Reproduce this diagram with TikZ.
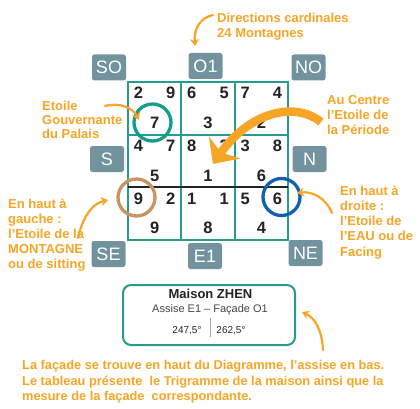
\documentclass[tikz,border=0pt]{standalone}
\usepackage{fontspec}
\setmainfont{Liberation Sans}
\usetikzlibrary{arrows.meta}
\definecolor{teal1}{RGB}{38,156,142}
\definecolor{tealc}{RGB}{20,158,138}
\definecolor{orng}{RGB}{246,165,38}
\definecolor{dirgray}{RGB}{114,146,157}
\definecolor{brownc}{RGB}{200,148,98}
\definecolor{bluec}{RGB}{18,96,176}
\definecolor{darktxt}{RGB}{35,35,35}
\definecolor{midtxt}{RGB}{70,70,70}
\begin{document}
\begin{tikzpicture}[x=1pt,y=-1pt,
  digit/.style={anchor=base,inner sep=0pt,font=\fontsize{16.5}{16.5}\selectfont\bfseries,text=darktxt},
  dirbox/.style={fill=dirgray,rounded corners=2.5pt,minimum width=34pt,minimum height=26pt,inner sep=0pt,text=white,font=\fontsize{18}{18}\selectfont},
  olab/.style={anchor=base west,inner sep=0pt,text=orng,font=\fontsize{13}{13}\selectfont\bfseries},
  blab/.style={olab,font=\fontsize{12.8}{12.8}\selectfont\bfseries},
  thinarrow/.style={draw=orng,line width=2.2pt,line cap=round,-{Stealth[length=7pt,width=9pt]}},
  ring/.style={circle,draw,line width=3.3pt,minimum size=37pt,inner sep=0pt},
  gridline/.style={draw=teal1,line width=1.8pt}
]
\useasboundingbox (0,0) rectangle (420,409);
\fill[white] (0,0) rectangle (420,409);

% grid
\draw[gridline] (128,82) rectangle (288,240);
\draw[gridline] (181.33,82) -- (181.33,240) (234.67,82) -- (234.67,240) (128,134.67) -- (288,134.67);
\draw[draw=darktxt,line width=1.8pt] (128,187.33) -- (288,187.33);

% digits
\foreach \r/\c/\a/\b/\m in {0/0/2/9/7,0/1/6/5/3,0/2/7/4/2,
                            1/0/4/7/5,1/1/8/3/1,1/2/3/8/6,
                            2/0/9/2/9,2/1/1/1/8,2/2/5/6/4}{
  \pgfmathsetmacro{\xl}{128+\c*53.333}
  \pgfmathsetmacro{\yt}{82+\r*52.667}
  \node[digit] (l\r\c) at (\xl+10.5,\yt+17) {\a};
  \node[digit] (r\r\c) at (\xl+42.8,\yt+17) {\b};
  \node[digit] (m\r\c) at (\xl+26.67,\yt+46.5) {\m};
}

% rings
\node[ring,draw=tealc] (ringpalais) at (152.5,122.5) {};
\node[ring,draw=brownc] (ringmont) at (136.5,197.5) {};
\node[ring,draw=bluec] (ringeau) at (281.5,197) {};

% direction boxes
\node[dirbox] (so) at (109,67.5) {SO};
\node[dirbox] (o1) at (205.5,66) {O1};
\node[dirbox] (no) at (308.5,67.5) {NO};
\node[dirbox] (s) at (107,159) {S};
\node[dirbox] (n) at (309.5,159) {N};
\node[dirbox] (se) at (108.5,254) {SE};
\node[dirbox] (e1) at (205,256) {E1};
\node[dirbox] (ne) at (305.5,253) {NE};

% big arrow
\coordinate (bigstart) at (321,122);
\coordinate (bigtip) at (213,164);
\draw[orng,line width=8.5pt,-{Stealth[length=20pt,width=38pt,inset=6pt]}] (bigstart) .. controls (293,100) and (248,114) .. (bigtip);

% orange labels
\node[olab] (dir1) at (217,23) {Directions cardinales};
\node[olab] (dir2) at (217,38) {24 Montagnes};
\node[olab] (pal1) at (42,110.5) {Etoile};
\node[olab] (pal2) at (42,124.5) {Gouvernante};
\node[olab] (pal3) at (42,138.5) {du Palais};
\node[olab] (cen1) at (327,105) {Au Centre};
\node[olab] (cen2) at (327,120) {l’Etoile de};
\node[olab] (cen3) at (327,135) {la Période};
\node[olab] (mon1) at (8,208) {En haut à};
\node[olab] (mon2) at (8,223) {gauche :};
\node[olab] (mon3) at (8,238) {l’Etoile de la};
\node[olab] (mon4) at (8,253) {MONTAGNE};
\node[olab] (mon5) at (8,268) {ou de sitting};
\node[olab] (eau1) at (340,195) {En haut à};
\node[olab] (eau2) at (340,210) {droite :};
\node[olab] (eau3) at (340,225) {l’Etoile de};
\node[olab] (eau4) at (340,240.5) {l’EAU ou de};
\node[olab] (eau5) at (340,256) {Facing};
\node[blab] (bot1) at (22,369) {La façade se trouve en haut du Diagramme, l’assise en bas.};
\node[blab] (bot2) at (22,385) {Le tableau présente\ \ le Trigramme de la maison ainsi que la};
\node[blab] (bot3) at (22,400) {mesure de la façade\ \ correspondante.};

% Maison box
\node[draw=teal1,line width=2pt,rounded corners=8pt,minimum width=172pt,minimum height=60pt,inner sep=0pt] (maison) at (209,315) {};
\node[anchor=base,inner sep=0pt,font=\fontsize{13}{13}\selectfont\bfseries,text=darktxt] (mtitle) at (210.5,298) {Maison ZHEN};
\node[anchor=base,inner sep=0pt,font=\fontsize{11}{11}\selectfont,text=midtxt] (msub) at (210,312) {Assise E1 – Façade O1};
\node[anchor=base,inner sep=0pt,font=\fontsize{10}{10}\selectfont,text=darktxt] (deg1) at (187,333) {247,5°};
\node[anchor=base,inner sep=0pt,font=\fontsize{10}{10}\selectfont,text=darktxt] (deg2) at (231,333) {262,5°};
\draw[gray!70,line width=0.8pt] (210,318) -- (210,337);

% thin arrows
\coordinate (a1s) at (213,15);   \coordinate (a1e) at (195,46);
\coordinate (a2s) at (105,106);  \coordinate (a2e) at (139,120);
\coordinate (a3s) at (78,238);   \coordinate (a3e) at (108,200);
\coordinate (a4s) at (332,213);  \coordinate (a4e) at (297,193);
\coordinate (a5s) at (323,350);  \coordinate (a5e) at (302,312);
\draw[thinarrow] (a1s) .. controls (199,18) and (194,30) .. (a1e);
\draw[thinarrow] (a2s) .. controls (120,102) and (133,108) .. (a2e);
\draw[thinarrow] (a3s) .. controls (84,212) and (95,203) .. (a3e);
\draw[thinarrow] (a4s) .. controls (326,198) and (312,191) .. (a4e);
\draw[thinarrow] (a5s) .. controls (322,330) and (315,318) .. (a5e);
\end{tikzpicture}
\end{document}
